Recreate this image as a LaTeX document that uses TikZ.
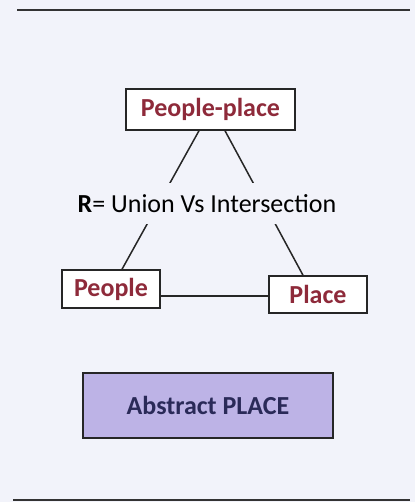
\documentclass[tikz,border=0pt]{standalone}
\usepackage{fontspec}
\setmainfont{Carlito}
\usetikzlibrary{positioning}
\definecolor{pagebg}{HTML}{F2F3FA}
\definecolor{boxred}{HTML}{8E2A3A}
\definecolor{boxnavy}{HTML}{2A2A58}
\definecolor{lavender}{HTML}{BDB3E6}
\tikzset{
  entity/.style={draw=black!85, line width=1.5pt, fill=white, text=boxred,
    font=\fontsize{26}{30}\selectfont\bfseries, inner sep=0pt, minimum height=38pt},
  rel/.style={fill=pagebg, inner sep=0pt, minimum height=41pt,
    font=\fontsize{26}{30}\selectfont},
  link/.style={line width=1.5pt, black!85}
}
\begin{document}
\begin{tikzpicture}[x=1pt, y=-1pt]
\fill[pagebg] (0,0) rectangle (415,502);
\useasboundingbox (0,0) rectangle (415,502);
% page rules
\draw[line width=1.3pt, black!80] (17,10) -- (410,10);
\draw[line width=1.3pt, black!80] (13,500) -- (410,500);
% the three entities
\node[entity, minimum width=169pt, minimum height=41pt] (pp) at (210.5,109.5) {People-place};
\node[entity, minimum width=98pt] (people) at (111,289) {People};
\node[entity, minimum width=98pt, minimum height=37pt] (place) at (318,294.5) {Place};
% links
\draw[link] ([xshift=-11.5pt]pp.south) -- ([xshift=11pt]people.north);
\draw[link] ([xshift=14.5pt]pp.south) -- ([xshift=-15pt]place.north);
\draw[link] (people.east |- 0,296) -- (place.west |- 0,296);
\node[rel] (r) at (207,203.5) {\textbf{R}= Union Vs Intersection};
% result
\node[entity, fill=lavender, text=boxnavy, minimum width=250pt, minimum height=65pt] (abs) at (208,405.5) {Abstract PLACE};
\end{tikzpicture}
\end{document}
